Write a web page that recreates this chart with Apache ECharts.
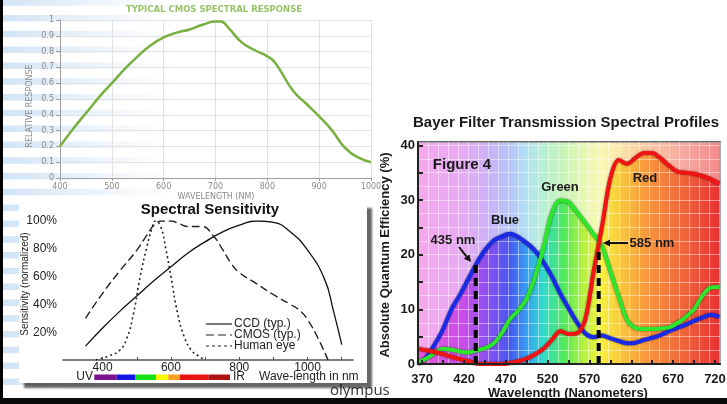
<!DOCTYPE html>
<html><head><meta charset="utf-8">
<script src="https://cdn.jsdelivr.net/npm/echarts@6/dist/echarts.min.js"></script>
<style>html,body{margin:0;padding:0;background:#fff}#c{width:727px;height:404px}</style>
</head><body><div id="c"></div>
<script>
// ---------- Top-left: Typical CMOS spectral response ----------
const cmosWl   = [400,425,450,475,500,525,550,575,600,625,650,675,700,710,725,750,775,800,815,850,875,900,925,950,975,1000];
const cmosResp = [0.20,0.31,0.41,0.51,0.60,0.69,0.77,0.84,0.89,0.92,0.94,0.97,0.99,0.99,0.95,0.86,0.81,0.77,0.73,0.55,0.47,0.39,0.30,0.19,0.13,0.10];

// ---------- Bottom-left: Spectral Sensitivity ----------
const ccdWl      = [350,400,450,500,550,600,650,700,750,800,850,900,950,1000,1050,1075,1100];
const ccdSens    = [10,23,35,46,57,67,77,85,92,97,100,99,92,79,58,36,11];
const cmosTypWl  = [350,400,450,500,530,550,575,600,625,650,690,725,750,775,800,850,900,950,980,1000,1030,1060];
const cmosTypSens= [30,48,64,79,90,97,100,100,98,96,96,89,80,70,63,55,47,40,35,29,16,0];
const eyeWl      = [380,420,450,470,490,510,530,545,555,570,585,600,620,640,660,680,700];
const eyeSens    = [0,3,7,15,33,60,82,95,100,96,80,60,33,16,7,3,0];
const sensLabels = [400,600,800,1000];
const sensTicks  = [400,500,600,700,800,900,1000,1100];
const sensYLabels= [20,40,60,80,100];

// ---------- Right: Bayer filter transmission ----------
const bayerWl = [365,375,385,395,405,415,425,435,445,455,465,475,485,495,505,515,525,535,545,555,565,575,585,595,605,615,625,635,645,655,665,675,685,695,705,715,725];
const blueQE  = [0,1.2,3.6,6.4,10.0,12.6,15.5,18.4,20.8,22.5,23.3,23.8,23.2,22.1,20.7,18.6,16.0,12.9,10.2,7.6,5.6,4.9,5.2,4.7,4.2,3.8,3.9,4.4,4.8,5.3,6.0,6.6,7.2,7.9,8.5,9.0,8.6];
const greenQE = [0.3,1.0,2.0,2.8,2.6,2.3,2.1,2.5,2.9,3.7,5.6,8.2,9.8,12.0,16.0,21.3,27.6,29.9,29.6,27.8,25.8,23.7,21.5,16.9,12.3,8.0,6.6,6.4,6.4,6.5,6.7,7.5,8.6,10.0,12.5,14.0,14.1];
const redQE   = [2.8,2.5,2.2,1.8,1.3,0.9,0.5,0.1,0,0,0,0.2,0.5,1.0,1.8,2.8,4.4,6.0,5.5,5.6,8.2,17.0,25.2,34.0,37.3,36.6,37.7,38.6,38.6,37.6,36.3,35.2,35.0,34.8,34.4,33.8,33.0];
const markerWl  = [434, 581];
const markerTop = [18.4, 21.0];
const bayerXLabels = [370,420,470,520,570,620,670,720];
const bayerXTicks  = [370,395,420,445,470,495,520,545,570,595,620,645,670,695,720];
const bayerYLabels = [0,10,20,30,40];
const bayerYTicks  = [0,5,10,15,20,25,30,35,40];

const zip = (xs, ys) => xs.map((x, i) => [x, ys[i]]);
const envelope = bayerWl.map((w, i) => [w, Math.max(blueQE[i], greenQE[i], redQE[i])]);
const plain = v => String(v);

const AR = '"Liberation Sans", Arial, sans-serif';
const DJ = '"DejaVu Sans", sans-serif';

function grad(stops){ return {type:'linear', x:0, y:0, x2:1, y2:0, colorStops: stops.map(s=>({offset:s[0], color:s[1]}))}; }
const pastel = grad([[0,'#f6a8ee'],[0.152,'#e6aaf4'],[0.235,'#cab2f8'],[0.305,'#b4c6f8'],[0.36,'#b2e0f2'],[0.416,'#b6f0d2'],[0.485,'#caf4b6'],[0.554,'#e8f8b2'],[0.61,'#fcf8b2'],[0.679,'#fce0aa'],[0.762,'#fcc6a2'],[0.873,'#f8aaa2'],[1,'#f48a8a']]);
const vivid  = grad([[0,'#e850d8'],[0.152,'#c444e8'],[0.235,'#8044f0'],[0.305,'#3a4cf0'],[0.36,'#2a98f0'],[0.416,'#22d8c8'],[0.485,'#44e852'],[0.554,'#b8f032'],[0.61,'#f8f032'],[0.679,'#f8c032'],[0.762,'#f89032'],[0.873,'#f06030'],[1,'#e82828']]);

function txt(text, x, y, font, fill, align, valign, extra){
  return Object.assign({type:'text', x:x, y:y, silent:true,
    style:{text:text, x:0, y:0, font:font, fill:fill, textAlign:align||'left', align:align||'left', textVerticalAlign:valign||'middle', verticalAlign:valign||'middle'}}, extra||{});
}
function arrow(x1,y1,x2,y2){
  const dx=x2-x1, dy=y2-y1, L=Math.hypot(dx,dy), ux=dx/L, uy=dy/L, px=-uy, py=ux;
  const bx=x2-ux*7, by=y2-uy*7;
  return [
    {type:'line', z:20, silent:true, shape:{x1:x1,y1:y1,x2:bx,y2:by}, style:{stroke:'#111', lineWidth:2}},
    {type:'polygon', z:20, silent:true, shape:{points:[[x2,y2],[bx+px*3.5,by+py*3.5],[bx-px*3.5,by-py*3.5]]}, style:{fill:'#111'}}
  ];
}

const graphics = [];
// decorative light-blue bands on the left
for (let y = 4.2; y < 398; y += 15.8) {
  graphics.push({type:'rect', z:-3, silent:true, shape:{x:3, y:y-5, width:170, height:6.5},
    style:{fill:{type:'linear',x:0,y:0,x2:1,y2:0,colorStops:[{offset:0,color:'rgba(205,225,243,0.9)'},{offset:0.33,color:'rgba(210,228,245,0.65)'},{offset:1,color:'rgba(220,232,246,0)'}]}}});
}
// olympus caption (partly hidden)
graphics.push(txt('olympus', 330, 383, '15px "Open Sans", sans-serif', '#333', 'left', 'top', {z:-4}));
// white box behind the Spectral Sensitivity chart
graphics.push({type:'rect', z:-2, silent:true, shape:{x:19, y:203, width:348, height:180},
  style:{fill:'#fff', shadowColor:'rgba(0,0,0,0.6)', shadowBlur:2, shadowOffsetX:5, shadowOffsetY:5}});
// top chart texts
graphics.push(txt('TYPICAL CMOS SPECTRAL RESPONSE', 214, 10, 'bold 8.5px '+DJ, '#98c468', 'center'));
graphics.push(txt('WAVELENGTH (NM)', 216, 197, '8px '+DJ, '#8a8a8a', 'center'));
graphics.push(txt('RELATIVE RESPONSE', 30, 106, '8px '+DJ, '#8a8a8a', 'center', 'middle', {rotation:Math.PI/2}));
// spectral sensitivity texts
graphics.push(txt('Spectral Sensitivity', 210, 210, 'bold 15px '+AR, '#111', 'center'));
graphics.push(txt('Sensitivity (normalized)', 25, 284, '10px '+AR, '#222', 'center', 'middle', {rotation:Math.PI/2}));
const legendRows = [['CCD (typ.)', 324, null],['CMOS (typ.)', 335, [8,4]],['Human eye', 346, [3,3]]];
legendRows.forEach(r => {
  graphics.push({type:'line', silent:true, shape:{x1:206,y1:r[1],x2:232,y2:r[1]}, style:{stroke:'#222', lineWidth:1.2, lineDash:r[2]}});
  graphics.push(txt(r[0], 234, r[1], '12px '+AR, '#222', 'left'));
});
const barParts = [[94.3,116.7,'#7d108e'],[116.7,135,'#1414e6'],[135,156,'#14e014'],[156,168.3,'#f8f800'],[168.3,180,'#f8a020'],[180,208.3,'#e81212'],[208.3,230,'#b01212']];
barParts.forEach(p => graphics.push({type:'rect', silent:true, shape:{x:p[0], y:374.5, width:p[1]-p[0], height:5.5}, style:{fill:p[2]}}));
graphics.push(txt('UV', 93, 377, '12px '+AR, '#222', 'right'));
graphics.push(txt('IR', 233, 377, '12px '+AR, '#222', 'left'));
graphics.push(txt('Wave-length in nm', 259, 377, '12px '+AR, '#222', 'left'));
// Bayer texts
graphics.push(txt('Bayer Filter Transmission Spectral Profiles', 566, 123, 'bold 15px '+AR, '#1a1a1a', 'center'));
graphics.push(txt('Wavelength (Nanometers)', 568, 393, 'bold 13px '+AR, '#1a1a1a', 'center'));
graphics.push(txt('Absolute Quantum Efficiency (%)', 385, 255, 'bold 13px '+AR, '#1a1a1a', 'center', 'middle', {rotation:Math.PI/2}));
graphics.push(txt('Figure 4', 462, 165, 'bold 15px '+AR, '#1a1a1a', 'center', 'middle', {z:20}));
graphics.push(txt('Blue', 505, 220, 'bold 13px '+AR, '#1a1a1a', 'center', 'middle', {z:20}));
graphics.push(txt('Green', 560, 187, 'bold 13px '+AR, '#1a1a1a', 'center', 'middle', {z:20}));
graphics.push(txt('Red', 645, 178, 'bold 13px '+AR, '#1a1a1a', 'center', 'middle', {z:20}));
graphics.push(txt('435 nm', 453, 240, 'bold 13px '+AR, '#1a1a1a', 'center', 'middle', {z:20}));
graphics.push(txt('585 nm', 652, 243, 'bold 13px '+AR, '#1a1a1a', 'center', 'middle', {z:20}));
arrow(459,247,471,262).forEach(g=>graphics.push(g));
arrow(628,243,603,243).forEach(g=>graphics.push(g));
// black frame edges
graphics.push({type:'rect', z:100, silent:true, shape:{x:0,y:0,width:3,height:404}, style:{fill:'#000'}});
graphics.push({type:'rect', z:100, silent:true, shape:{x:0,y:398,width:727,height:6}, style:{fill:'#0a0a0a'}});

const gridLine = {show:true, lineStyle:{color:'rgba(255,255,255,0.45)', width:1}};
const option = {
  animation:false,
  backgroundColor:'#fff',
  grid:[
    {left:60, top:20, width:311, height:158, show:false, outerBoundsMode:'none'},
    {left:63, top:221, width:290, height:139, show:false, outerBoundsMode:'none'},
    {left:418, top:142, width:302, height:222, show:true, backgroundColor:pastel, borderColor:'#333', borderWidth:1.5, outerBoundsMode:'none'}
  ],
  xAxis:[
    {gridIndex:0, type:'value', min:400, max:1000, interval:100,
     axisLine:{show:true, lineStyle:{color:'#a0a0a0'}}, axisTick:{show:true, length:3, lineStyle:{color:'#a0a0a0'}},
     axisLabel:{formatter:plain, color:'#8a8a8a', fontSize:8, fontFamily:'DejaVu Sans', margin:5},
     splitLine:{show:true, lineStyle:{color:'#e2e2e2'}}},
    {gridIndex:1, type:'value', min:284, max:1133,
     axisLine:{show:true, lineStyle:{color:'#555', width:1.5}},
     axisTick:{show:true, inside:true, length:3, customValues:sensTicks, lineStyle:{color:'#555'}},
     axisLabel:{customValues:sensLabels, formatter:plain, color:'#222', fontSize:12, fontFamily:'Liberation Sans', margin:2},
     splitLine:{show:false}},
    {gridIndex:2, type:'value', min:365, max:726, z:5,
     axisLine:{show:true, lineStyle:{color:'#222', width:2}},
     axisTick:{show:true, inside:true, length:4, customValues:bayerXTicks, lineStyle:{color:'#222', width:2}},
     axisLabel:{customValues:bayerXLabels, formatter:plain, color:'#1a1a1a', fontSize:13, fontWeight:'bold', fontFamily:'Liberation Sans', margin:9},
     splitLine:{show:false}},
    {gridIndex:2, type:'value', min:0, max:361, interval:12, z:1.5, position:'top',
     axisLine:{show:false}, axisTick:{show:false}, axisLabel:{show:false}, splitLine:gridLine}
  ],
  yAxis:[
    {gridIndex:0, type:'value', min:0, max:1, interval:0.1,
     axisLine:{show:true, lineStyle:{color:'#a0a0a0'}}, axisTick:{show:true, length:4, lineStyle:{color:'#a0a0a0'}},
     axisLabel:{color:'#8a8a8a', fontSize:8, fontFamily:'DejaVu Sans', margin:6},
     splitLine:{show:true, lineStyle:{color:'#e2e2e2'}}},
    {gridIndex:1, type:'value', min:0, max:100,
     axisLine:{show:false}, axisTick:{show:false},
     axisLabel:{customValues:sensYLabels, formatter:'{value}%', color:'#222', fontSize:12, fontFamily:'Liberation Sans', margin:6},
     splitLine:{show:false}},
    {gridIndex:2, type:'value', min:0, max:40.6, z:5,
     axisLine:{show:true, lineStyle:{color:'#222', width:2}},
     axisTick:{show:true, inside:true, length:5, customValues:bayerYTicks, lineStyle:{color:'#222', width:2}},
     axisLabel:{customValues:bayerYLabels, color:'#1a1a1a', fontSize:13, fontWeight:'bold', fontFamily:'Liberation Sans', margin:3},
     splitLine:{show:false}},
    {gridIndex:2, type:'value', min:0, max:40.6, interval:2.5, z:1.5, position:'right',
     axisLine:{show:false}, axisTick:{show:false}, axisLabel:{show:false}, splitLine:gridLine}
  ],
  series:[
    {type:'line', xAxisIndex:0, yAxisIndex:0, data:zip(cmosWl, cmosResp), smooth:true, symbol:'none',
     lineStyle:{color:'#78b040', width:2.5}},
    {type:'line', xAxisIndex:1, yAxisIndex:1, data:zip(ccdWl, ccdSens), smooth:true, symbol:'none',
     lineStyle:{color:'#111', width:1.3}},
    {type:'line', xAxisIndex:1, yAxisIndex:1, data:zip(cmosTypWl, cmosTypSens), smooth:true, symbol:'none',
     lineStyle:{color:'#222', width:1.4, type:[8,4]}},
    {type:'line', xAxisIndex:1, yAxisIndex:1, data:zip(eyeWl, eyeSens), smooth:true, symbol:'none',
     lineStyle:{color:'#222', width:1.6, type:[2,3]}},
    {type:'line', xAxisIndex:2, yAxisIndex:2, data:envelope, smooth:0.3, symbol:'none', z:1,
     lineStyle:{width:0, opacity:0}, areaStyle:{color:vivid, opacity:0.9}},
    {type:'line', xAxisIndex:2, yAxisIndex:2, data:zip(bayerWl, blueQE), smooth:0.3, symbol:'none', z:3,
     lineStyle:{color:'#1a2ae6', width:4, shadowColor:'rgba(0,0,40,0.7)', shadowBlur:2}},
    {type:'line', xAxisIndex:2, yAxisIndex:2, data:zip(bayerWl, greenQE), smooth:0.3, symbol:'none', z:3,
     lineStyle:{color:'#2ee62e', width:4, shadowColor:'rgba(0,40,0,0.7)', shadowBlur:2}},
    {type:'line', xAxisIndex:2, yAxisIndex:2, data:zip(bayerWl, redQE), smooth:0.3, symbol:'none', z:4,
     lineStyle:{color:'#f01414', width:4, shadowColor:'rgba(60,0,0,0.7)', shadowBlur:2}},
    {type:'line', xAxisIndex:2, yAxisIndex:2, data:[[markerWl[0],0],[markerWl[0],markerTop[0]]], symbol:'none', z:4,
     lineStyle:{color:'#000', width:4, type:[8,5]}},
    {type:'line', xAxisIndex:2, yAxisIndex:2, data:[[markerWl[1],0],[markerWl[1],markerTop[1]]], symbol:'none', z:4,
     lineStyle:{color:'#000', width:4, type:[8,5]}}
  ],
  graphic:{elements:graphics}
};
const chart = echarts.init(document.getElementById('c'));
chart.setOption(option);
</script></body></html>
